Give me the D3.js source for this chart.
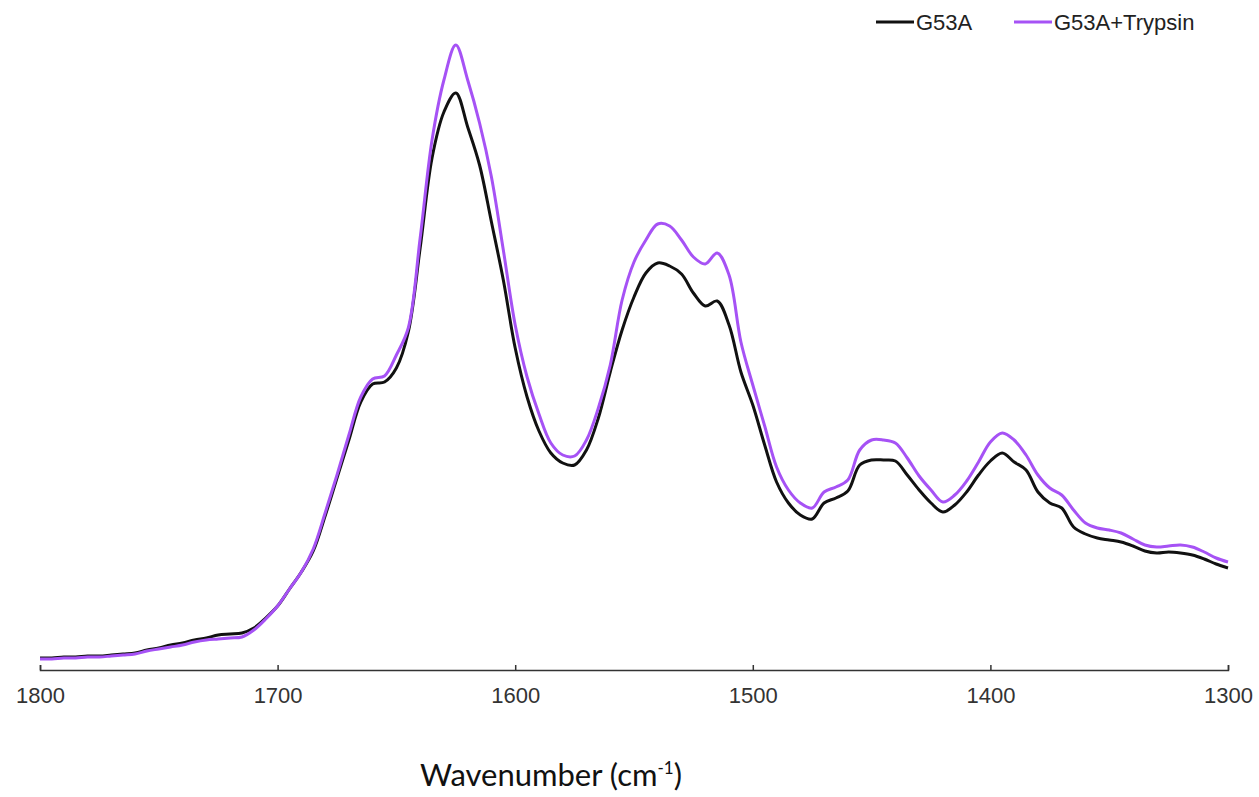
<!doctype html>
<html>
<head>
<meta charset="utf-8">
<script src="https://cdnjs.cloudflare.com/ajax/libs/d3/7.8.5/d3.min.js"></script>
<style>
  body { margin: 0; background: #fff; }
  path.trace { fill: none; stroke-width: 3; stroke-linejoin: round; }
  .axis path, .axis line { stroke: #333; stroke-width: 1.5; }
  .axis text { font-family: "Liberation Sans", Arial, sans-serif; font-size: 22px; fill: #333; }
  text.legend { font-family: "Liberation Sans", Arial, sans-serif; font-size: 22px; fill: #222; }
  text.title { font-family: Lato, "Open Sans", sans-serif; font-size: 31px; fill: #111; }
</style>
</head>
<body>
<svg width="1259" height="797"></svg>
<script>
// wavenumber grid (cm-1)
var wavenumbers = [1800,1795,1790,1785,1780,1775,1770,1765,1760,1755,1750,1745,1740,1735,1730,1725,1720,1715,1710,1705,
  1700,1695,1690,1685,1680,1675,1670,1665,1660,1655,1650,1645,1640,1635,1630,1625,1620,1615,1610,1605,
  1600,1595,1590,1585,1580,1575,1570,1565,1560,1555,1550,1545,1540,1535,1530,1525,1520,1515,1510,1505,
  1500,1495,1490,1485,1480,1475,1470,1465,1460,1455,1450,1445,1440,1435,1430,1425,1420,1415,1410,1405,
  1400,1395,1390,1385,1380,1375,1370,1365,1360,1355,1350,1345,1340,1335,1330,1325,1320,1315,1310,1305,1300];

// absorbance, arbitrary units
var g53a = [12,12,13,13,14,14,15,16,17,20,22,25,27,30,32,35,36,37,42,52,
  64,81,98,119,154,192,230,268,286,288,302,338,422,512,558,577,543,505,448,390,
  322,273,239,217,207,205,220,252,298,340,373,397,407,404,396,377,364,369,345,298,
  265,225,188,167,155,151,167,172,179,205,210,210,209,195,180,167,158,165,178,195,
  209,217,208,200,178,167,162,143,136,132,130,128,124,119,117,118,117,115,111,106,102];

var g53aTrypsin = [11,11,12,12,13,13,14,15,16,19,21,23,25,28,30,31,32,33,40,51,
  64,81,98,121,157,195,235,273,291,294,315,342,432,530,590,625,590,547,493,420,
  345,293,256,227,215,214,230,262,305,370,408,430,446,444,430,413,406,417,395,328,
  285,244,203,180,167,162,178,183,190,220,230,230,227,212,194,180,168,175,189,208,
  228,237,230,215,195,182,175,160,147,142,140,137,131,125,123,124,125,123,118,112,108];

var xTicks = [1800,1700,1600,1500,1400,1300];
var seriesNames = ["G53A", "G53A+Trypsin"];
var seriesColors = ["#111111", "#a652f5"];

var svg = d3.select("svg");

var x = d3.scaleLinear().domain([1800, 1300]).range([40, 1228]);
var y = d3.scaleLinear().domain([0, 650]).range([670, 20]);

var line = d3.line()
  .x(function (d) { return x(d[0]); })
  .y(function (d) { return y(d[1]); })
  .curve(d3.curveCatmullRom);

[g53a, g53aTrypsin].forEach(function (vals, i) {
  svg.append("path")
    .attr("class", "trace")
    .attr("stroke", seriesColors[i])
    .attr("d", line(wavenumbers.map(function (w, j) { return [w, vals[j]]; })));
});

var axis = svg.append("g")
  .attr("class", "axis")
  .attr("transform", "translate(0,670)")
  .call(d3.axisBottom(x).tickValues(xTicks).tickSizeInner(-5).tickSizeOuter(-5).tickPadding(13).tickFormat(d3.format("d")));
axis.selectAll("text").attr("dy", "0.9em");

var title = svg.append("text")
  .attr("class", "title")
  .attr("x", 551)
  .attr("y", 786)
  .attr("text-anchor", "middle");
title.append("tspan").text("Wavenumber (cm");
title.append("tspan").attr("font-size", "17px").attr("dy", "-12").text("-1");
title.append("tspan").attr("dy", "12").text(")");

// legend
var legendX = [876, 1014];
seriesNames.forEach(function (name, i) {
  var g = svg.append("g").attr("transform", "translate(" + legendX[i] + ",22)");
  g.append("line").attr("x1", 0).attr("x2", 38).attr("y1", 0).attr("y2", 0)
    .attr("stroke", seriesColors[i]).attr("stroke-width", 3);
  g.append("text").attr("class", "legend").attr("x", 40).attr("y", 8).text(name);
});
</script>
</body>
</html>
